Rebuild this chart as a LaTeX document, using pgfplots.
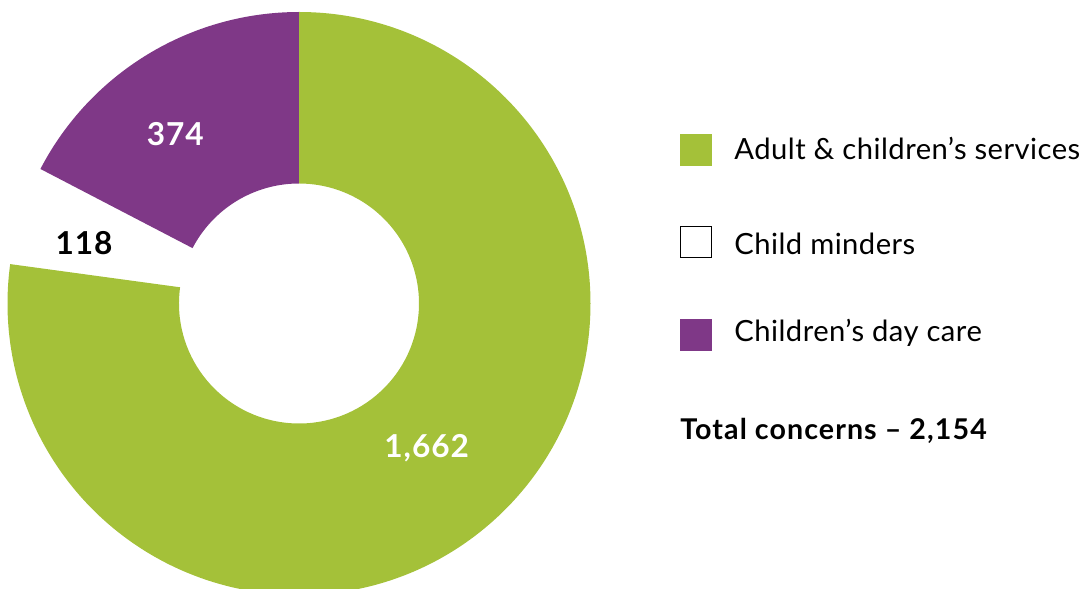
\documentclass[border=0pt]{standalone}
\usepackage{pgfplots}
\pgfplotsset{compat=1.18}
\usepackage{fontspec}
\setmainfont{Lato}
\definecolor{cgreen}{HTML}{A4C139}
\definecolor{cpurple}{HTML}{7F3887}
\begin{document}
\begin{tikzpicture}[x=0.5pt,y=0.5pt]
% data
\def\vA{1662}\def\vB{118}\def\vC{374}
\pgfmathsetmacro{\tot}{\vA+\vB+\vC}
\pgfmathsetmacro{\aA}{90}
\pgfmathsetmacro{\aB}{90-360*(\vA/\tot)}
\pgfmathsetmacro{\aC}{\aB-360*(\vB/\tot)}
\pgfmathsetmacro{\aD}{\aC-360*(\vC/\tot)}
\def\cx{299}\def\cy{285.5}\def\R{291.5}\def\r{120}
\begin{axis}[x=0.5pt,y=0.5pt,xmin=0,xmax=1084,ymin=0,ymax=589,hide axis,clip=true]
\fill[cgreen] (axis cs:{\cx+\R*cos(\aA)},{\cy+\R*sin(\aA)}) arc[start angle=\aA,end angle=\aB,radius=\R]
  -- (axis cs:{\cx+\r*cos(\aB)},{\cy+\r*sin(\aB)}) arc[start angle=\aB,end angle=\aA,radius=\r] -- cycle;
\fill[cpurple] (axis cs:{\cx+\R*cos(\aC)},{\cy+\R*sin(\aC)}) arc[start angle=\aC,end angle=\aD,radius=\R]
  -- (axis cs:{\cx+\r*cos(\aD)},{\cy+\r*sin(\aD)}) arc[start angle=\aD,end angle=\aC,radius=\r] -- cycle;
\addplot[only marks,mark=square*,mark size=7.8pt,mark options={fill=cgreen,draw=cgreen}] coordinates {(696,439)};
\addplot[only marks,mark=square*,mark size=7.7pt,mark options={fill=white,draw=black,line width=0.6pt}] coordinates {(696,347)};
\addplot[only marks,mark=square*,mark size=7.8pt,mark options={fill=cpurple,draw=cpurple}] coordinates {(696,254)};
\node[anchor=base west,inner sep=0pt,font=\fontsize{14.6}{17}\selectfont\addfontfeatures{LetterSpace=1.6}] at (axis cs:734,429.7) {Adult \& children’s services};
\node[anchor=base west,inner sep=0pt,font=\fontsize{14.6}{17}\selectfont\addfontfeatures{LetterSpace=1.6}] at (axis cs:734,334) {Child minders};
\node[anchor=base west,inner sep=0pt,font=\fontsize{14.6}{17}\selectfont\addfontfeatures{LetterSpace=1.6}] at (axis cs:734,247.3) {Children’s day care};
\node[anchor=base west,inner sep=0pt,font=\fontsize{14.3}{17}\selectfont\bfseries\addfontfeatures{LetterSpace=3.8}] at (axis cs:680,149) {Total concerns – 2,154};
\node[anchor=base,inner sep=0pt,text=white,font=\fontsize{15.8}{18}\selectfont\bfseries\addfontfeatures{LetterSpace=3}] at (axis cs:426.7,131.7) {1,662};
\node[anchor=base,inner sep=0pt,text=black,font=\fontsize{15.8}{18}\selectfont\bfseries\addfontfeatures{LetterSpace=3}] at (axis cs:84,334) {118};
\node[anchor=base,inner sep=0pt,text=white,font=\fontsize{15.8}{18}\selectfont\bfseries\addfontfeatures{LetterSpace=3}] at (axis cs:175.3,443) {374};
\end{axis}
\pgfresetboundingbox
\path (0,0) rectangle (1084,589);
\end{tikzpicture}
\end{document}
